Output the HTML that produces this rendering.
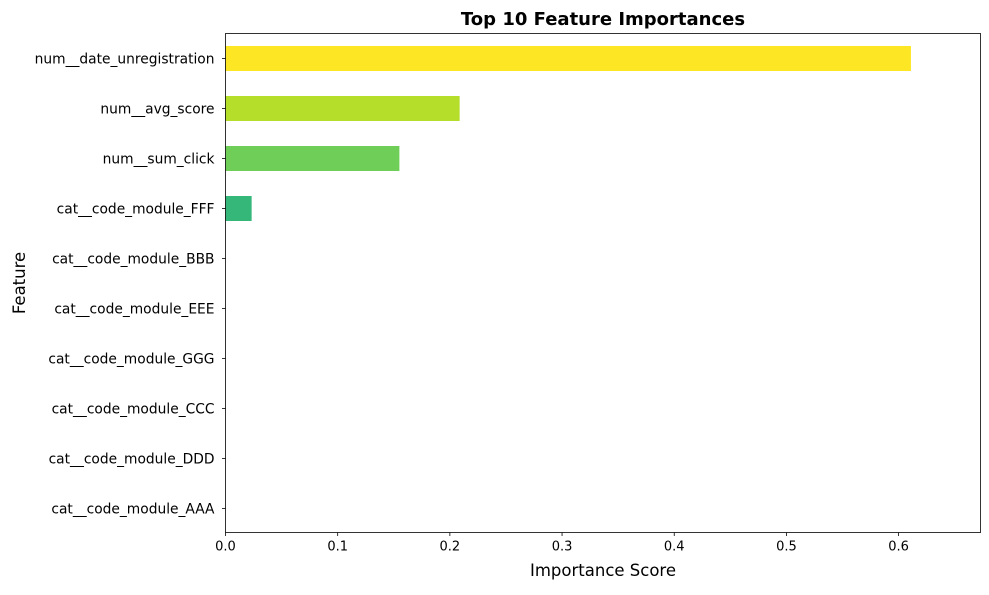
<!DOCTYPE html>
<html><head><meta charset="utf-8"><style>
body{margin:0;background:#fff;font-family:"Liberation Sans","DejaVu Sans",sans-serif;}
svg text{font-family:"DejaVu Sans","Liberation Sans",sans-serif;}
</style></head><body>
<svg id="chart" width="989" height="590" xmlns="http://www.w3.org/2000/svg"></svg>
<script>
const categories=["num__date_unregistration","num__avg_score","num__sum_click","cat__code_module_FFF","cat__code_module_BBB","cat__code_module_EEE","cat__code_module_GGG","cat__code_module_CCC","cat__code_module_DDD","cat__code_module_AAA"];
const values=[0.611,0.2087,0.155,0.0233,0,0,0,0,0,0];
const barColors=["#fde725","#b5de2b","#6ece58","#35b779","#1f9e89","#26828e","#31688e","#3e4989","#482878","#440154"];
const xTicks=[0,0.1,0.2,0.3,0.4,0.5,0.6];
const xTickLabels=["0.0","0.1","0.2","0.3","0.4","0.5","0.6"];
const L=225.5,R=980.5,T=33.5,B=532.5,XMAX=0.673;
const svg=document.getElementById('chart');const NS="http://www.w3.org/2000/svg";
function x(v){return L+(v/XMAX)*(R-L);}
function yc(i){return 58.5+i*50;}
function el(t,a,txt){const e=document.createElementNS(NS,t);for(const k in a)e.setAttribute(k,a[k]);if(txt!==undefined)e.textContent=txt;svg.appendChild(e);return e;}
categories.forEach((c,i)=>{
 const r=el('rect',{x:x(0),y:yc(i)-12.5,width:x(values[i])-x(0),height:25,fill:barColors[i]});
 
 
 const tk=el('line',{x1:L-3.5,x2:L,y1:yc(i),y2:yc(i),stroke:'#000','stroke-width':0.8});
 
 
 const t=el('text',{x:L-11,y:yc(i)+5,'text-anchor':'end','font-size':13.8,fill:'#000'},c);
 
 
});
xTicks.forEach((v,i)=>{
 const tk=el('line',{x1:x(v),x2:x(v),y1:B,y2:B+3.5,stroke:'#000','stroke-width':0.8});
 
 
 const t=el('text',{x:x(v),y:B+18,'text-anchor':'middle','font-size':13,fill:'#000'},xTickLabels[i]);
 
 
});
const fr=el('rect',{x:L,y:T,width:R-L,height:B-T,fill:'none',stroke:'#000','stroke-width':0.8});


const ti=el('text',{x:(L+R)/2,y:25,'text-anchor':'middle','font-size':18,'font-weight':'bold'},'Top 10 Feature Importances');


const xl=el('text',{x:(L+R)/2,y:576,'text-anchor':'middle','font-size':16.5},'Importance Score');


const yl=el('text',{x:25,y:283,'text-anchor':'middle','font-size':16.5,transform:'rotate(-90 25 283)'},'Feature');


</script>
</body></html>
